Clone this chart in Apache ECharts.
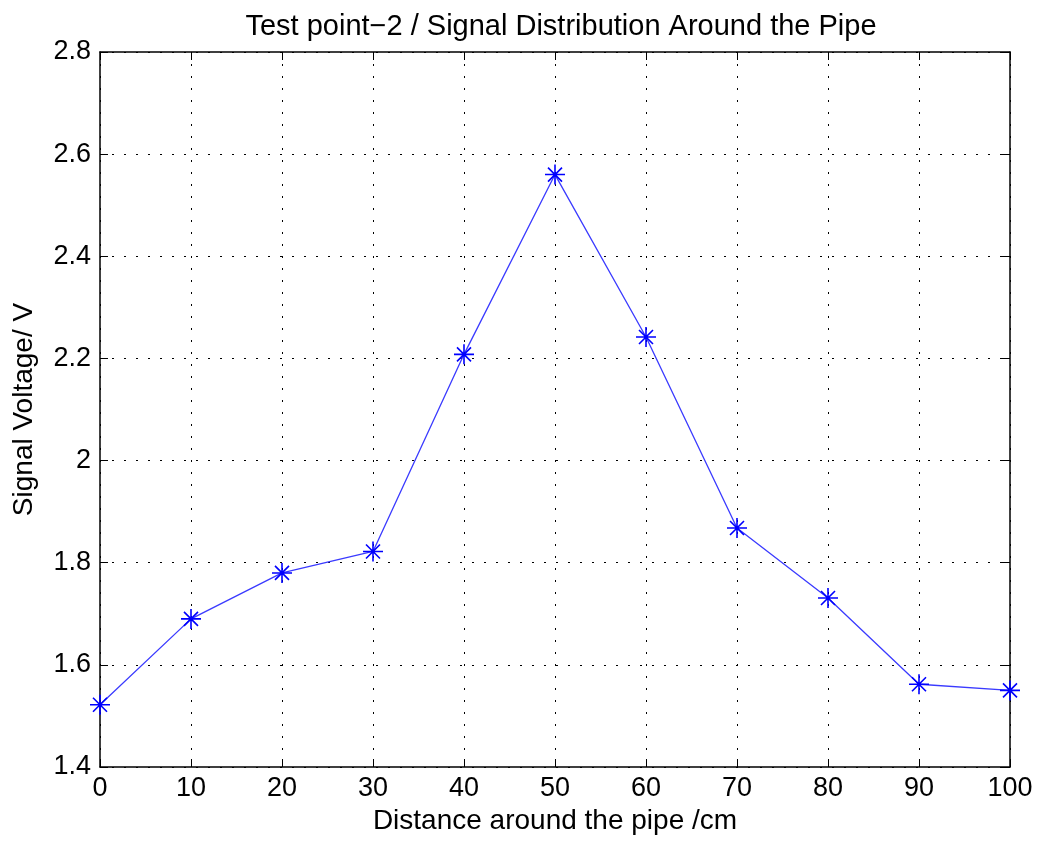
<!DOCTYPE html>
<html>
<head>
<meta charset="utf-8">
<script src="https://cdn.jsdelivr.net/npm/echarts@6/dist/echarts.min.js"></script>
<style>
  html, body { margin: 0; padding: 0; background: #fff; }
  #chart { width: 1043px; height: 844px; }
</style>
</head>
<body>
<div id="chart"></div>
<script>
// data
const distance = [0, 10, 20, 30, 40, 50, 60, 70, 80, 90, 100]
const voltage = [1.522, 1.69, 1.78, 1.822, 2.208, 2.56, 2.242, 1.868, 1.731, 1.562, 1.55]

const font = 'Liberation Sans, Arial, sans-serif'
const dotted = { color: '#000', width: 1, type: [2, 10] }
const star = 'path://M0,-1L0,1M-1,0L1,0M-0.7,-0.7L0.7,0.7M-0.7,0.7L0.7,-0.7'

const chart = echarts.init(document.getElementById('chart'))
chart.setOption({
  animation: false,
  title: {
    text: 'Test point\u22122 / Signal Distribution Around the Pipe',
    left: 556, top: 7, textAlign: 'center',
    textStyle: { fontFamily: font, fontSize: 29, fontWeight: 'normal', color: '#000' },
  },
  grid: { left: 100, right: 33, top: 52, bottom: 77 },
  xAxis: [
    {
      type: 'value', min: 0, max: 100, interval: 10,
      name: 'Distance around the pipe /cm', nameLocation: 'middle', nameGap: 32,
      nameTextStyle: { fontFamily: font, fontSize: 28, color: '#000' },
      axisLine: { lineStyle: { color: '#000', width: 1.5 } },
      axisTick: { inside: true, length: 8, lineStyle: { color: '#000' } },
      axisLabel: { fontFamily: font, fontSize: 27, color: '#000', margin: 8 },
      splitLine: { show: true, lineStyle: dotted },
    },
    {
      type: 'value', min: 0, max: 100, interval: 10, position: 'top',
      axisLine: { show: true, onZero: false, lineStyle: { color: '#000', width: 1.5 } },
      axisTick: { show: true, inside: true, length: 8, lineStyle: { color: '#000' } },
      axisLabel: { show: false }, splitLine: { show: false },
    },
  ],
  yAxis: [
    {
      type: 'value', min: 1.4, max: 2.8, interval: 0.2,
      name: 'Signal Voltage/ V', nameLocation: 'middle', nameGap: 62,
      nameTextStyle: { fontFamily: font, fontSize: 28, color: '#000' },
      axisLine: { show: true, lineStyle: { color: '#000', width: 1.5 } },
      axisTick: { show: true, inside: true, length: 8, lineStyle: { color: '#000' } },
      axisLabel: {
        fontFamily: font, fontSize: 27, color: '#000', margin: 9,
        formatter: (v) => String(Math.round(v * 10) / 10),
      },
      splitLine: { show: true, lineStyle: dotted },
    },
    {
      type: 'value', min: 1.4, max: 2.8, interval: 0.2, position: 'right',
      axisLine: { show: true, onZero: false, lineStyle: { color: '#000', width: 1.5 } },
      axisTick: { show: true, inside: true, length: 8, lineStyle: { color: '#000' } },
      axisLabel: { show: false }, splitLine: { show: false },
    },
  ],
  series: [
    {
      type: 'line',
      data: distance.map((d, i) => [d, voltage[i]]),
      symbol: star,
      symbolSize: 20,
      lineStyle: { color: '#3a3aff', width: 1.3 },
      itemStyle: { color: 'rgba(0,0,0,0)', borderColor: '#0000ff', borderWidth: 1.6 },
      clip: false,
    },
  ],
})
</script>
</body>
</html>
